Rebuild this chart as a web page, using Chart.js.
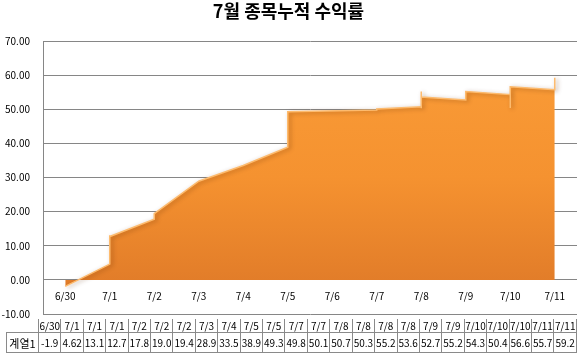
<!DOCTYPE html>
<html>
<head>
<meta charset="utf-8">
<script src="https://cdn.jsdelivr.net/npm/chart.js@4.4.1/dist/chart.umd.min.js"></script>
<style>
html,body{margin:0;padding:0;background:#fff;}
#wrap{position:relative;width:579px;height:359px;overflow:hidden;}
#c{position:absolute;left:0;top:0;}
#tbl{position:absolute;left:6px;top:319px;width:571px;border-collapse:collapse;table-layout:fixed;
  font-family:"Noto Sans CJK KR","DejaVu Sans",sans-serif;font-size:10px;color:#000;}
#tbl td{border:1px solid #8a8a8a;padding:0;text-align:center;white-space:nowrap;overflow:hidden;line-height:12px;background:#fff;}
#tbl tr.h td{height:13px;border-top:none;}
#tbl tr.v td{height:19px;}
#tbl td.blank{border:none;background:transparent;}
#tbl td.name{font-size:11px;}
</style>
</head>
<body>
<div id="wrap">
<canvas id="c" width="579" height="333"></canvas>
<table id="tbl"></table>
</div>
<script>
const chartTitle = '7월 종목누적 수익률';
const seriesName = '계열1';
const categories = ['6/30','7/1','7/1','7/1','7/2','7/2','7/2','7/3','7/4','7/5','7/5','7/7','7/7','7/8','7/8','7/8','7/8','7/9','7/9','7/10','7/10','7/10','7/11','7/11'];
const values = [-1.9,4.62,13.1,12.7,17.8,19.0,19.4,28.9,33.5,38.9,49.3,49.8,50.1,50.7,50.3,55.2,53.6,52.7,55.2,54.3,50.4,56.6,55.7,59.2];
const axisDates = ['6/30','7/1','7/2','7/3','7/4','7/5','7/6','7/7','7/8','7/9','7/10','7/11'];
const yMin = -10, yMax = 70, yStep = 10;

// data table
(function(){
  const tbl = document.getElementById('tbl');
  const cg = document.createElement('colgroup');
  const c0 = document.createElement('col'); c0.style.width = '32px'; cg.appendChild(c0);
  categories.forEach(()=>{ const c=document.createElement('col'); cg.appendChild(c); });
  tbl.appendChild(cg);
  const h = document.createElement('tr'); h.className='h';
  const b = document.createElement('td'); b.className='blank'; h.appendChild(b);
  categories.forEach(c=>{ const td=document.createElement('td'); td.textContent=c; h.appendChild(td); });
  tbl.appendChild(h);
  const v = document.createElement('tr'); v.className='v';
  const n = document.createElement('td'); n.className='name'; n.textContent=seriesName; v.appendChild(n);
  values.forEach(x=>{ const td=document.createElement('td'); td.textContent = Number.isInteger(x) ? x.toFixed(1) : String(x); v.appendChild(td); });
  tbl.appendChild(v);
})();

const points = categories.map((c,i)=>({x: axisDates.indexOf(c), y: values[i]}));

Chart.defaults.font.family = "'Noto Sans CJK KR','DejaVu Sans',sans-serif";
Chart.defaults.color = '#000';

const shadowPlugin = {
  id:'shadow',
  beforeDatasetDraw(chart){ const ctx=chart.ctx; ctx.save(); ctx.shadowColor='rgba(90,40,0,0.45)'; ctx.shadowBlur=4; ctx.shadowOffsetX=2; ctx.shadowOffsetY=1; },
  afterDatasetDraw(chart){ chart.ctx.restore(); }
};

new Chart(document.getElementById('c'), {
  type:'line',
  data:{ datasets:[{
    label: seriesName,
    data: points,
    fill: 'origin',
    tension: 0,
    pointRadius: 0,
    borderWidth: 1.5,
    borderColor: '#FDBB6E',
    backgroundColor(ctx){
      const ca = ctx.chart.chartArea;
      if(!ca) return '#F08A2E';
      const g = ctx.chart.ctx.createLinearGradient(0, ca.top, 0, ca.bottom);
      g.addColorStop(0, '#FA9D38');
      g.addColorStop(0.5, '#F59230');
      g.addColorStop(1, '#DC7627');
      return g;
    }
  }]},
  options:{
    responsive:false,
    animation:false,
    layout:{ padding:{ left:0, right:2, top:0, bottom:0 } },
    plugins:{
      legend:{ display:false },
      tooltip:{ enabled:false },
      title:{ display:true, text: chartTitle, color:'#000',
        font:{ size:18, weight:'bold' }, padding:{ top:0, bottom:19.4 } }
    },
    scales:{
      x:{
        type:'linear', position:{ y:0 }, min:-0.5, max:11.5,
        grid:{ display:false }, border:{ display:false },
        afterBuildTicks(scale){ scale.ticks = axisDates.map((d,i)=>({value:i})); },
        ticks:{ autoSkip:false, maxRotation:0, padding:2, font:{ size:10 }, color:'#000',
          callback(v){ return axisDates[v] !== undefined ? axisDates[v] : ''; } }
      },
      y:{
        min:yMin, max:yMax,
        afterFit(scale){ scale.width = 43; },
        grid:{ color:'#868686', lineWidth:1, drawTicks:false },
        border:{ display:true, color:'#868686', width:1 },
        ticks:{ stepSize:yStep, padding:13, font:{ size:10 }, color:'#000',
          callback(v){ return Number(v).toFixed(2); } }
      }
    }
  },
  plugins:[shadowPlugin]
});
</script>
</body>
</html>
